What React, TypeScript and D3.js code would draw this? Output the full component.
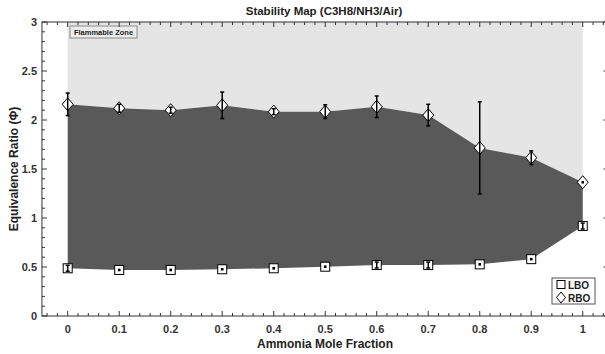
import React from "react";
import * as d3 from "d3";

const xValues = [0, 0.1, 0.2, 0.3, 0.4, 0.5, 0.6, 0.7, 0.8, 0.9, 1.0];
const rboValues = [2.16, 2.12, 2.1, 2.15, 2.085, 2.085, 2.135, 2.05, 1.715, 1.615, 1.365];
const rboErr = [0.115, 0.04, 0.03, 0.135, 0.03, 0.07, 0.11, 0.11, 0.47, 0.07, 0.0];
const lboValues = [0.487, 0.47, 0.47, 0.477, 0.487, 0.503, 0.52, 0.52, 0.527, 0.58, 0.918];
const lboErr = [0.03, 0.01, 0.01, 0.01, 0.01, 0.01, 0.03, 0.03, 0.01, 0.01, 0.03];
const xTickLabels = ["0", "0.1", "0.2", "0.3", "0.4", "0.5", "0.6", "0.7", "0.8", "0.9", "1"];
const yTickValues = [0, 0.5, 1, 1.5, 2, 2.5, 3];

const W = 605;
const H = 354;
const FONT = "Liberation Sans, Arial, sans-serif";

export default function App() {
  const x = d3.scaleLinear().domain([-0.05, 1.05]).range([41.95, 608.5]);
  const y = d3.scaleLinear().domain([0, 3]).range([316, 22]);
  const left = x(-0.05), right = x(1.05), top = y(3), bottom = y(0);

  const data = xValues.map((v, i) => ({ x: v, rbo: rboValues[i], lbo: lboValues[i], re: rboErr[i], le: lboErr[i] }));

  const darkArea = d3.area<any>().x((d) => x(d.x)).y0((d) => y(d.lbo)).y1((d) => y(d.rbo));
  const lightArea = d3.area<any>().x((d) => x(d.x)).y0((d) => y(d.rbo)).y1(() => y(3));

  const xMinor = d3.range(-0.04, 1.05, 0.02).map((v) => Math.round(v * 100) / 100);
  const yMinor = d3.range(0, 3.001, 0.1).map((v) => Math.round(v * 10) / 10);

  const diamond = (cx: number, cy: number, w = 5.5, h = 6.5) =>
    `M${cx},${cy - h}L${cx + w},${cy}L${cx},${cy + h}L${cx - w},${cy}Z`;

  const errBar = (cx: number, v: number, e: number, key: string) => {
    if (e <= 0.012) return <rect key={key} x={cx - 1.3} y={y(v) - 1.3} width={2.6} height={2.6} fill="#000" />;
    const y1 = y(v + e), y2 = y(v - e);
    return (
      <g key={key} stroke="#000" strokeWidth={1.5}>
        <line x1={cx} x2={cx} y1={y1} y2={y2} />
        <line x1={cx - 2} x2={cx + 2} y1={y1} y2={y1} />
        <line x1={cx - 2} x2={cx + 2} y1={y2} y2={y2} />
      </g>
    );
  };

  return (
    <svg width={W} height={H} style={{ position: "absolute", left: 0, top: 0, background: "#fff" }} fontFamily={FONT}>
      <rect x={0} y={0} width={W} height={H} fill="#fff" />
      <path d={lightArea(data) || ""} fill="#e5e5e5" />
      <path d={darkArea(data) || ""} fill="#595959" />

      {/* flammable zone label */}
      <rect x={70} y={26} width={67} height={12} fill="#ececec" stroke="#8a8a8a" strokeWidth={1} />
      <text x={103.5} y={34.7} fontSize={7.5} fontWeight="bold" textAnchor="middle" fill="#222">Flammable Zone</text>

      {/* markers */}
      {data.map((d, i) => (
        <path key={"rd" + i} d={diamond(x(d.x), y(d.rbo))} fill="#fff" stroke="#000" strokeWidth={1} />
      ))}
      {data.map((d, i) => (
        <rect key={"ls" + i} x={x(d.x) - 4.5} y={y(d.lbo) - 4.5} width={9} height={9} fill="#fff" stroke="#000" strokeWidth={1} />
      ))}
      {data.map((d, i) => errBar(x(d.x), d.rbo, d.re, "re" + i))}
      {data.map((d, i) => errBar(x(d.x), d.lbo, d.le, "le" + i))}

      {/* axes box */}
      <rect x={left} y={top} width={right - left} height={bottom - top} fill="none" stroke="#333" strokeWidth={1} />
      {xMinor.map((v, i) => {
        const major = Math.abs(v * 10 - Math.round(v * 10)) < 1e-6;
        const len = major ? 5 : 3;
        return (
          <g key={"xm" + i} stroke="#333" strokeWidth={1}>
            <line x1={x(v)} x2={x(v)} y1={bottom} y2={bottom - len} />
            <line x1={x(v)} x2={x(v)} y1={top} y2={top + len} />
          </g>
        );
      })}
      {yMinor.map((v, i) => {
        const major = Math.abs(v * 2 - Math.round(v * 2)) < 1e-6;
        const len = major ? 5 : 3;
        return (
          <g key={"ym" + i} stroke="#333" strokeWidth={1}>
            <line x1={left} x2={left + len} y1={y(v)} y2={y(v)} />
            <line x1={right} x2={right - len} y1={y(v)} y2={y(v)} />
          </g>
        );
      })}
      {xValues.map((v, i) => (
        <text key={"xl" + i} x={x(v)} y={333} fontSize={11} fontWeight="bold" textAnchor="middle" fill="#333">{xTickLabels[i]}</text>
      ))}
      {yTickValues.map((v, i) => (
        <text key={"yl" + i} x={37} y={y(v) + 4} fontSize={11} fontWeight="bold" textAnchor="end" fill="#333">{String(v)}</text>
      ))}

      {/* labels */}
      <text x={324} y={15} fontSize={11.5} fontWeight="bold" textAnchor="middle" fill="#222">Stability Map (C3H8/NH3/Air)</text>
      <text x={325} y={348} fontSize={12} fontWeight="bold" textAnchor="middle" fill="#222">Ammonia Mole Fraction</text>
      <text transform={`translate(18,${(top + bottom) / 2}) rotate(-90)`} fontSize={12} fontWeight="bold" textAnchor="middle" fill="#222">Equivalence Ratio (Φ)</text>

      {/* legend */}
      <rect x={552} y={278} width={43} height={26} fill="#fff" stroke="#555" strokeWidth={1} />
      <rect x={557} y={280.5} width={8} height={8} fill="#fff" stroke="#000" strokeWidth={1} />
      <text x={568} y={288.5} fontSize={10} fontWeight="bold" fill="#222">LBO</text>
      <path d={diamond(561, 297.5, 4.5, 5.5)} fill="#fff" stroke="#000" strokeWidth={1} />
      <text x={568} y={301.5} fontSize={10} fontWeight="bold" fill="#222">RBO</text>
    </svg>
  );
}
